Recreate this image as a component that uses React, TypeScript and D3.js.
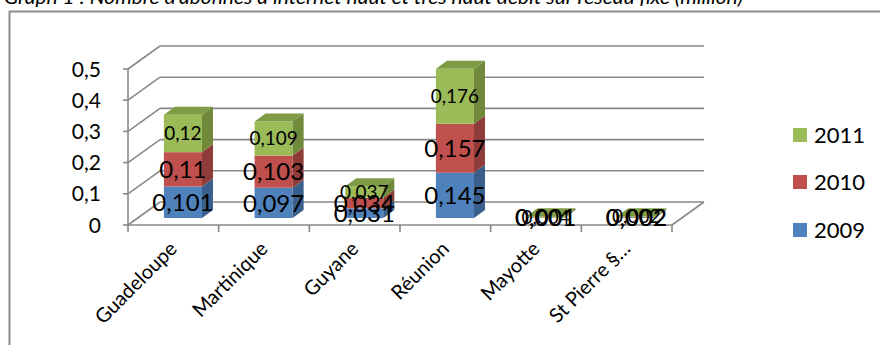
import React, { useRef, useEffect } from 'react'
import * as d3 from 'd3'

// chart data
const categories = ['Guadeloupe', 'Martinique', 'Guyane', 'Réunion', 'Mayotte', 'St Pierre §…']
const years = ['2009', '2010', '2011']
const values2009 = [0.101, 0.097, 0.031, 0.145, 0.001, 0.002]
const values2010 = [0.11, 0.103, 0.034, 0.157, 0.001, 0.002]
const values2011 = [0.12, 0.109, 0.037, 0.176, 0.004, 0.002]
const yTicks = [0, 0.1, 0.2, 0.3, 0.4, 0.5]
const yTickLabels = ['0', '0,1', '0,2', '0,3', '0,4', '0,5']
const title = "Graph 1 : Nombre d'abonnés à internet haut et très haut débit sur réseau fixe (million)"

const front = { 2009: '#4F81BD', 2010: '#C0504D', 2011: '#9BBB59' }
const side = { 2009: '#3A5F8C', 2010: '#8E3B39', 2011: '#71893A' }
const top = { 2009: '#4673A8', 2010: '#A84643', 2011: '#7E9C45' }

const FONT = 'Lato, "Open Sans", sans-serif'

const App = () => {
    const visEl = useRef<HTMLDivElement>(null)

    useEffect(() => {
        const root = d3.select(visEl.current)
        root.selectAll('*').remove()
        const svg = root.append('svg')
            .attr('width', 880)
            .attr('height', 345)
            .style('position', 'absolute')
            .style('left', 0)
            .style('top', 0)
            .style('font-family', FONT)

        const rows = categories.map((c, i) => ({
            cat: c, '2009': values2009[i], '2010': values2010[i], '2011': values2011[i]
        }))
        const stacked = d3.stack<any>().keys(years)(rows)

        const x0 = 128, x1 = 672
        const back = { dx: 32, dy: -23 }
        const barOff = { dx: 9.6, dy: -7 }
        const barDepth = { dx: 11, dy: -8 }

        const xScale = d3.scaleBand()
            .domain(categories)
            .range([x0, x1])
            .paddingInner(0.58)
            .paddingOuter(0.29)
        const yScale = d3.scaleLinear().domain([0, 0.5]).range([225, 69])
        const y0 = yScale(0)
        const step = xScale.step()

        // title + outer frame
        svg.append('text')
            .attr('x', 4).attr('y', 4)
            .attr('font-size', 19).attr('font-style', 'italic')
            .attr('textLength', 739).attr('lengthAdjust', 'spacingAndGlyphs')
            .text(title)
        svg.append('rect')
            .attr('x', 9.5).attr('y', 11.5)
            .attr('width', 900).attr('height', 400)
            .attr('fill', 'none').attr('stroke', '#8c8c8c').attr('stroke-width', 2)

        const grid = svg.append('g')
            .attr('stroke', '#898989').attr('stroke-width', 1.6).attr('fill', 'none')

        yTicks.forEach(t => {
            const y = yScale(t)
            grid.append('line')
                .attr('x1', x0).attr('y1', y)
                .attr('x2', x0 + back.dx).attr('y2', y + back.dy)
            grid.append('line')
                .attr('x1', x0 + back.dx).attr('y1', y + back.dy)
                .attr('x2', x1 + back.dx).attr('y2', y + back.dy)
            grid.append('line')
                .attr('x1', x0 - 5).attr('y1', y)
                .attr('x2', x0).attr('y2', y)
        })
        grid.append('line')
            .attr('x1', x0).attr('y1', yScale(0.5))
            .attr('x2', x0).attr('y2', y0)
        grid.append('line')
            .attr('x1', x0).attr('y1', y0)
            .attr('x2', x1).attr('y2', y0)
        grid.append('line')
            .attr('x1', x1).attr('y1', y0)
            .attr('x2', x1 + back.dx).attr('y2', y0 + back.dy)
        d3.range(categories.length + 1).forEach(i => {
            const x = x0 + i * step
            grid.append('line')
                .attr('x1', x).attr('y1', y0)
                .attr('x2', x).attr('y2', y0 + 7)
        })

        // y tick labels
        svg.append('g').selectAll('text')
            .data(yTicks)
            .join('text')
            .attr('x', 101)
            .attr('y', d => yScale(d))
            .attr('dy', '0.36em')
            .attr('text-anchor', 'end')
            .attr('font-size', 21)
            .text((d, i) => yTickLabels[i])

        // 3d stacked bars
        const bw = xScale.bandwidth()
        const bars = svg.append('g')
        stacked.forEach((layer, li) => {
            const key = layer.key
            layer.forEach((d, i) => {
                const xl = (xScale(categories[i]) as number) + barOff.dx
                const yb = yScale(d[0]) + barOff.dy
                const yt = yScale(d[1]) + barOff.dy
                bars.append('rect')
                    .attr('x', xl).attr('y', yt)
                    .attr('width', bw).attr('height', Math.max(0, yb - yt))
                    .attr('fill', front[key])
                bars.append('path')
                    .attr('d', `M${xl + bw},${yt}L${xl + bw + barDepth.dx},${yt + barDepth.dy}L${xl + bw + barDepth.dx},${yb + barDepth.dy}L${xl + bw},${yb}Z`)
                    .attr('fill', side[key])
                if (li === stacked.length - 1) {
                    bars.append('path')
                        .attr('d', `M${xl},${yt}L${xl + barDepth.dx},${yt + barDepth.dy}L${xl + bw + barDepth.dx},${yt + barDepth.dy}L${xl + bw},${yt}Z`)
                        .attr('fill', top[key])
                }
            })
        })

        // data labels
        const labels = svg.append('g').attr('text-anchor', 'middle')
        stacked.forEach((layer, li) => {
            const key = layer.key
            layer.forEach((d, i) => {
                const cx = (xScale(categories[i]) as number) + barOff.dx + bw / 2
                const cy = (yScale(d[0]) + yScale(d[1])) / 2 + barOff.dy
                labels.append('text')
                    .attr('x', cx).attr('y', cy)
                    .attr('dy', '0.36em')
                    .attr('font-size', key === '2011' ? 19 : 24)
                    .text(String(d.data[key]).replace('.', ','))
            })
        })

        // category labels
        svg.append('g').selectAll('text')
            .data(categories)
            .join('text')
            .attr('text-anchor', 'end')
            .attr('font-size', 20)
            .attr('transform', d => `translate(${(xScale(d) as number) + bw / 2 + 5},${y0 + 25}) rotate(-45)`)
            .text(d => d)

        // legend
        const legendY = [230, 182, 135]
        const legend = svg.append('g')
        years.forEach((k, i) => {
            legend.append('rect')
                .attr('x', 793).attr('y', legendY[i] - 7)
                .attr('width', 14).attr('height', 14)
                .attr('fill', front[k])
            legend.append('text')
                .attr('x', 814).attr('y', legendY[i])
                .attr('dy', '0.36em')
                .attr('font-size', 22)
                .text(k)
        })
    }, [])

    return (
        <div>
            <div ref={visEl}></div>
        </div>
    )
}

export default App
